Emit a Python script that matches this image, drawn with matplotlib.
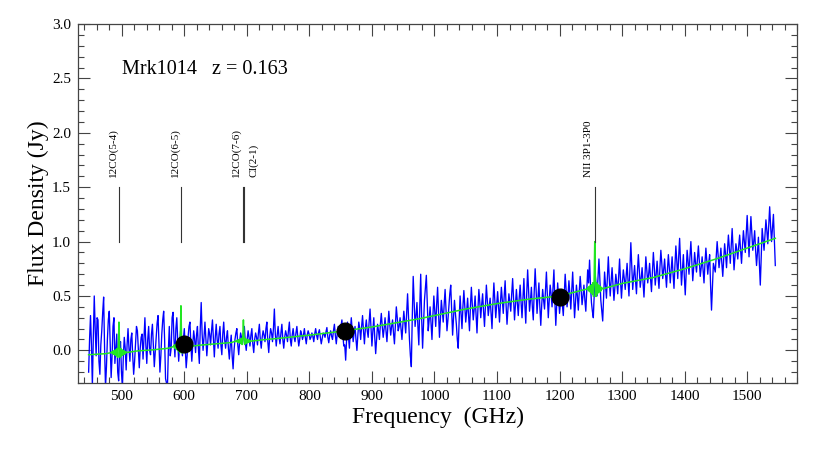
import numpy as np
import matplotlib
matplotlib.use("Agg")
import matplotlib.pyplot as plt
from matplotlib.ticker import MultipleLocator
import matplotlib.transforms as mtransforms

plt.rcParams['font.family'] = ['Liberation Serif', 'DejaVu Serif']

# ---------------- data ----------------
# spectrum channels: main channels start 447 GHz, half-step channels start 448.5 GHz
spec_start = 447.0
spec_mid_start = 448.5
spec_step = 3.0
spec_flux = [
    -0.20, 0.32, -0.33, 0.50, -0.05, 0.28, -0.22, 0.18, 0.49, -0.34,
    0.10, 0.36, -0.25, 0.22, -0.12, 0.15, -0.28, 0.08, -0.34, 0.12,
    -0.18, 0.20, -0.10, 0.16, -0.22, 0.06, 0.18, -0.16, 0.12, -0.08,
    0.30, -0.12, 0.22, -0.04, 0.24, -0.15, 0.10, 0.32, -0.20, 0.15,
    0.36, -0.26, -0.34, 0.22, 0.02, 0.35, -0.06, 0.30, -0.10, 0.18,
    -0.05, 0.20, -0.16, 0.12, 0.26, -0.10, 0.18, -0.02, 0.22, -0.12,
    0.44, 0.00, 0.26, -0.05, 0.20, 0.05, 0.28, -0.06, 0.24, 0.02,
    0.22, -0.04, 0.26, 0.02, 0.18, -0.08, 0.14, -0.17, 0.10, 0.20,
    -0.04, 0.16, 0.06, 0.22, 0.00, 0.18, 0.04, 0.20, -0.02, 0.16,
    0.05, 0.24, 0.02, 0.18, 0.08, 0.26, -0.02, 0.20, 0.08, 0.38,
    0.04, 0.22, 0.06, 0.24, 0.02, 0.18, 0.08, 0.26, 0.04, 0.20,
    0.08, 0.22, 0.04, 0.18, 0.10, 0.20, 0.06, 0.18, 0.10, 0.16,
    0.08, 0.20, 0.10, 0.19, 0.06, 0.16, 0.12, 0.21, 0.07, 0.18,
    0.10, 0.24, 0.06, 0.22, 0.12, 0.28, 0.04, -0.09, 0.26, 0.02,
    0.30, 0.08, 0.22, 0.00, 0.26, 0.10, 0.32, 0.06, 0.28, 0.12,
    0.38, 0.04, 0.30, -0.03, 0.24, 0.10, 0.34, 0.12, 0.30, 0.08,
    0.36, 0.14, 0.28, 0.06, 0.40, 0.18, 0.30, 0.10, 0.36, 0.16,
    0.52, 0.10, -0.15, 0.68, 0.22, 0.44, 0.05, 0.70, 0.02, 0.46,
    0.69, 0.18, 0.40, 0.10, 0.50, 0.22, 0.58, 0.12, 0.46, 0.26,
    0.56, 0.18, 0.40, 0.60, 0.14, 0.46, 0.24, 0.02, 0.50, 0.20,
    0.55, 0.26, 0.48, 0.18, 0.58, 0.28, 0.50, 0.16, 0.56, 0.30,
    0.52, 0.22, 0.60, 0.32, 0.48, 0.20, 0.62, 0.30, 0.54, 0.26,
    0.58, 0.34, 0.64, 0.24, 0.52, 0.36, 0.66, 0.28, 0.56, 0.32,
    0.60, 0.30, 0.66, 0.25, 0.74, 0.36, 0.58, 0.28, 0.75, 0.34,
    0.62, 0.23, 0.56, 0.38, 0.72, 0.30, 0.60, 0.40, 0.74, 0.23,
    0.62, 0.34, 0.56, 0.32, 0.70, 0.40, 0.64, 0.38, 0.72, 0.30,
    0.60, 0.37, 0.68, 0.42, 0.60, 0.36, 0.74, 0.83, 0.44, 0.30,
    0.70, 0.50, 0.84, 0.46, 0.27, 0.72, 0.48, 0.86, 0.50, 0.76,
    0.46, 0.70, 0.52, 0.84, 0.48, 0.74, 0.56, 0.80, 0.50, 0.99,
    0.56, 0.78, 0.52, 0.88, 0.58, 0.76, 0.49, 0.86, 0.62, 0.80,
    0.54, 0.90, 0.60, 0.82, 0.57, 0.92, 0.66, 0.84, 0.58, 0.88,
    0.62, 0.86, 0.57, 0.96, 0.66, 1.03, 0.60, 0.88, 0.51, 0.92,
    0.70, 1.00, 0.64, 0.90, 0.72, 0.96, 0.68, 0.86, 0.62, 0.94,
    0.70, 0.88, 0.37, 0.80, 0.72, 1.00, 0.76, 0.94, 0.68, 0.98,
    0.76, 1.06, 0.80, 1.12, 0.74, 0.98, 0.84, 1.06, 0.80, 1.10,
    0.90, 1.24, 0.86, 1.23, 0.92, 1.10, 0.78, 1.04, 0.60, 1.12,
    0.92, 1.20, 0.98, 1.32, 1.00, 1.25, 0.78,
]
spec_flux_mid = [
    0.10, 0.05, 0.12, 0.20, 0.30, -0.10, 0.05, 0.35, 0.02, -0.15,
    0.28, 0.05, -0.05, 0.30, 0.02, -0.20, 0.00, -0.20, -0.05, 0.02,
    0.05, 0.02, 0.10, -0.05, -0.10, 0.22, 0.00, 0.02, 0.15, 0.10,
    0.05, 0.10, 0.00, 0.15, 0.05, -0.02, 0.25, 0.05, -0.05, 0.28,
    0.10, -0.30, 0.00, -0.05, 0.30, 0.10, 0.20, 0.08, 0.05, 0.02,
    0.10, 0.02, -0.05, 0.22, 0.05, 0.05, 0.10, 0.14, 0.02, 0.20,
    0.15, 0.12, 0.10, 0.08, 0.15, 0.18, 0.10, 0.12, 0.10, 0.15,
    0.05, 0.15, 0.10, 0.12, 0.02, 0.05, -0.05, 0.00, 0.16, 0.05,
    0.08, 0.12, 0.15, 0.08, 0.10, 0.12, 0.14, 0.06, 0.10, 0.12,
    0.16, 0.10, 0.12, 0.14, 0.20, 0.08, 0.12, 0.16, 0.20, 0.15,
    0.14, 0.12, 0.16, 0.10, 0.12, 0.14, 0.18, 0.10, 0.14, 0.12,
    0.16, 0.12, 0.10, 0.15, 0.14, 0.12, 0.14, 0.15, 0.12, 0.13,
    0.15, 0.14, 0.16, 0.12, 0.11, 0.15, 0.17, 0.12, 0.14, 0.13,
    0.18, 0.14, 0.15, 0.18, 0.22, 0.14, 0.05, 0.10, 0.12, 0.18,
    0.18, 0.16, 0.10, 0.14, 0.20, 0.22, 0.18, 0.20, 0.18, 0.26,
    0.20, 0.18, 0.12, 0.10, 0.18, 0.24, 0.22, 0.20, 0.18, 0.22,
    0.24, 0.22, 0.16, 0.24, 0.30, 0.22, 0.20, 0.24, 0.26, 0.35,
    0.30, -0.05, 0.30, 0.45, 0.32, 0.22, 0.40, 0.30, 0.25, 0.58,
    0.42, 0.28, 0.25, 0.32, 0.36, 0.42, 0.34, 0.30, 0.36, 0.42,
    0.36, 0.28, 0.52, 0.36, 0.30, 0.34, 0.10, 0.28, 0.34, 0.40,
    0.40, 0.36, 0.32, 0.40, 0.42, 0.38, 0.32, 0.38, 0.44, 0.42,
    0.36, 0.42, 0.46, 0.40, 0.34, 0.44, 0.46, 0.42, 0.40, 0.44,
    0.46, 0.50, 0.42, 0.38, 0.44, 0.52, 0.46, 0.42, 0.44, 0.48,
    0.44, 0.48, 0.42, 0.52, 0.56, 0.46, 0.40, 0.54, 0.56, 0.48,
    0.40, 0.42, 0.46, 0.56, 0.50, 0.46, 0.52, 0.58, 0.46, 0.42,
    0.48, 0.44, 0.42, 0.52, 0.56, 0.50, 0.52, 0.56, 0.50, 0.44,
    0.50, 0.54, 0.56, 0.50, 0.46, 0.56, 0.62, 0.60, 0.36, 0.52,
    0.60, 0.68, 0.64, 0.36, 0.50, 0.60, 0.68, 0.66, 0.64, 0.60,
    0.58, 0.62, 0.68, 0.64, 0.62, 0.66, 0.68, 0.64, 0.76, 0.78,
    0.68, 0.64, 0.72, 0.74, 0.66, 0.62, 0.68, 0.74, 0.70, 0.66,
    0.72, 0.76, 0.70, 0.68, 0.76, 0.80, 0.74, 0.70, 0.74, 0.76,
    0.74, 0.70, 0.78, 0.82, 0.86, 0.80, 0.74, 0.68, 0.72, 0.82,
    0.86, 0.82, 0.76, 0.80, 0.84, 0.82, 0.76, 0.74, 0.80, 0.82,
    0.80, 0.60, 0.58, 0.76, 0.86, 0.88, 0.84, 0.80, 0.84, 0.88,
    0.92, 0.94, 0.96, 0.92, 0.86, 0.92, 0.96, 0.92, 0.96, 1.00,
    1.08, 1.04, 1.06, 1.08, 1.00, 0.92, 0.90, 0.80, 0.86, 1.02,
    1.06, 1.10, 1.16, 1.14, 1.12, 1.02,
]

cont_freq = [447, 475, 500, 525, 550, 575, 600, 625, 650, 675, 700, 725, 750,
             775, 800, 825, 850, 875, 900, 925, 950, 975, 1000, 1050, 1100,
             1150, 1200, 1250, 1300, 1350, 1400, 1450, 1500, 1545]
cont_flux = [-0.04, -0.03, -0.015, -0.005, 0.005, 0.02, 0.035, 0.048, 0.06,
             0.072, 0.085, 0.097, 0.11, 0.125, 0.14, 0.157, 0.175, 0.195,
             0.215, 0.24, 0.265, 0.29, 0.32, 0.38, 0.43, 0.47, 0.50, 0.555,
             0.615, 0.67, 0.75, 0.84, 0.94, 1.03]

model_line_freq = [495.5, 594.6, 694.5, 1256.3]
model_line_base = [-0.02, 0.035, 0.085, 0.565]
model_line_peak = [0.26, 0.41, 0.28, 1.00]
ring_offset = [-12, -11, -10, -9, -8, -7, -6, -5, -4, -3, -2, -1, 0,
               1, 2, 3, 4, 5, 6, 7, 8, 9, 10, 11, 12]
ring_shape = [0.0, 0.03, -0.04, 0.05, -0.06, 0.07, -0.08, 0.09, -0.11, 0.13,
              -0.16, 0.2, 1.0, 0.2, -0.16, 0.13, -0.11, 0.09, -0.08, 0.07,
              -0.06, 0.05, -0.04, 0.03, 0.0]

phot_freq = [600, 857, 1200]
phot_flux = [0.06, 0.18, 0.49]

mark_freq = [495.5, 594.6, 693.6, 695.9, 1256.3]
mark_label = ['12CO(5-4)', '12CO(6-5)', '12CO(7-6)', 'CI(2-1)', 'NII 3P1-3P0']
mark_label_dx = [-4.5, -4.0, -4.5, 6.5, -4.5]

title_text = 'Mrk1014   z = 0.163'

# ---------------- build series ----------------
f_main = spec_start + spec_step * np.arange(len(spec_flux))
f_mid = spec_mid_start + spec_step * np.arange(len(spec_flux_mid))
allf = np.concatenate([f_main, f_mid])
allv = np.concatenate([np.array(spec_flux), np.array(spec_flux_mid)])
o = np.argsort(allf)
spec_freq = allf[o]
spec_val = allv[o]

mf = np.array(cont_freq, float)
mv = np.array(cont_flux, float)
keep = np.ones(len(mf), bool)
for f0 in model_line_freq:
    keep &= np.abs(mf - f0) > 12.5
mf = list(mf[keep])
mv = list(mv[keep])
for f0, b, p in zip(model_line_freq, model_line_base, model_line_peak):
    for off, s in zip(ring_offset, ring_shape):
        mf.append(f0 + off)
        mv.append(b + (p - b) * s)
order = np.argsort(mf)
model_freq = np.array(mf)[order]
model_flux = np.array(mv)[order]

# ---------------- plot ----------------
fig = plt.figure(figsize=(8.21, 4.53), dpi=100)
ax = fig.add_axes([0.095, 0.1545, 0.876, 0.7925])

ax.plot(spec_freq, spec_val, color='#0000ff', lw=0.95, zorder=2)
ax.plot(model_freq, model_flux, color='#22e622', lw=1.1, zorder=3)
ax.plot(phot_freq, phot_flux, 'o', color='black', ms=12, zorder=4)

for f in mark_freq:
    ax.plot([f, f], [1.0, 1.5], color='#333333', lw=0.8, zorder=3)
for f, lab, dx in zip(mark_freq, mark_label, mark_label_dx):
    tr = ax.transData + mtransforms.ScaledTranslation(dx / 72.0, 0, fig.dpi_scale_trans)
    ax.text(f, 1.59, lab, rotation=90, ha='center', va='bottom',
            fontsize=8, transform=tr)

ax.text(500, 2.54, title_text, fontsize=14.5, ha='left', va='baseline')

ax.set_xlim(430, 1580)
ax.set_ylim(-0.3, 3.0)
ax.xaxis.set_minor_locator(MultipleLocator(20))
ax.yaxis.set_minor_locator(MultipleLocator(0.1))
ax.set_xticks([500, 600, 700, 800, 900, 1000, 1100, 1200, 1300, 1400, 1500])
ax.set_yticks([0.0, 0.5, 1.0, 1.5, 2.0, 2.5, 3.0])
ax.set_yticklabels(['0.0', '0.5', '1.0', '1.5', '2.0', '2.5', '3.0'])
ax.tick_params(which='both', direction='in', top=True, right=True,
               color='#444444', width=0.8, labelsize=11)
ax.tick_params(which='major', length=8.5, pad=5)
ax.tick_params(which='minor', length=4.5)
for sp in ax.spines.values():
    sp.set_color('#444444')
    sp.set_linewidth(0.9)

ax.set_xlabel('Frequency  (GHz)', fontsize=17, labelpad=3)
ax.set_ylabel('Flux Density (Jy)', fontsize=17, labelpad=2)

fig.savefig('out.png', dpi=100)
